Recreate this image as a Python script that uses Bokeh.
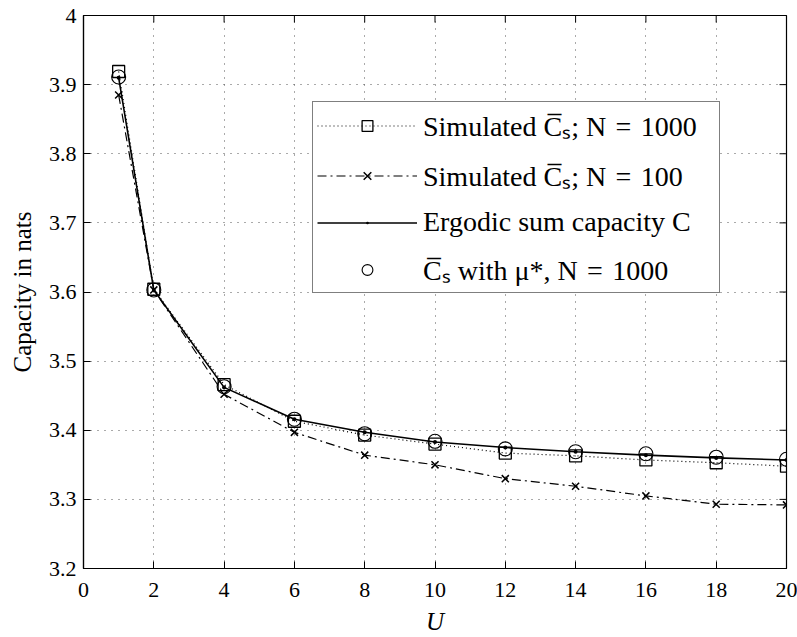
import math
from bokeh.plotting import figure
from bokeh.models import Legend, LegendItem, Range1d, FixedTicker
from bokeh.embed import file_html
from bokeh.resources import INLINE

U = [1, 2, 4, 6, 8, 10, 12, 14, 16, 18, 20]
sim_1000 = [3.919, 3.604, 3.466, 3.413, 3.393, 3.380, 3.367, 3.363, 3.357, 3.353, 3.348]
sim_100 = [3.885, 3.603, 3.452, 3.397, 3.364, 3.350, 3.330, 3.319, 3.305, 3.293, 3.292]
ergodic = [3.910, 3.603, 3.462, 3.416, 3.397, 3.383, 3.375, 3.369, 3.364, 3.360, 3.357]
mu_star = [3.911, 3.603, 3.463, 3.416, 3.395, 3.384, 3.373, 3.369, 3.366, 3.361, 3.358]

x_ticks = [0, 2, 4, 6, 8, 10, 12, 14, 16, 18, 20]
y_ticks = [3.2, 3.3, 3.4, 3.5, 3.6, 3.7, 3.8, 3.9, 4.0]
x_lim = [0, 20]
y_lim = [3.2, 4.0]

labels = [
    "Simulated C\u0305\u209B; N\u2004=\u20041000",
    "Simulated C\u0305\u209B; N\u2004=\u2004100",
    "Ergodic sum capacity C",
    "C\u0305\u209B with \u03BC*, N\u2004=\u20041000",
]

FONT = "Liberation Serif"

p = figure(width=797, height=637, output_backend="svg", toolbar_location=None,
           x_range=Range1d(*x_lim), y_range=Range1d(*y_lim),
           min_border_left=83, min_border_right=11, min_border_top=15, min_border_bottom=67)
p.outline_line_color = "black"
p.outline_line_width = 1.2

for ax, ticks in ((p.xaxis[0], x_ticks), (p.yaxis[0], y_ticks)):
    ax.ticker = FixedTicker(ticks=ticks)
    ax.major_tick_in = 7
    ax.major_tick_out = 0
    ax.minor_tick_in = 0
    ax.minor_tick_out = 0
    ax.axis_line_color = "black"
    ax.axis_line_width = 1.2
    ax.major_label_text_font = FONT
    ax.major_label_text_font_size = "22px"
    ax.major_label_text_color = "black"
    ax.axis_label_text_font = FONT
    ax.axis_label_text_font_size = "25px"
    ax.axis_label_text_color = "black"

p.xaxis[0].axis_label = "U"
p.xaxis[0].axis_label_text_font_style = "italic"
p.xaxis[0].major_label_standoff = 14
p.xaxis[0].axis_label_standoff = 8
p.yaxis[0].axis_label = "Capacity in nats"
p.yaxis[0].axis_label_text_font_style = "normal"
p.yaxis[0].major_label_standoff = 7
p.yaxis[0].axis_label_standoff = 10

# Box ticks on top and right
p.ray(x=x_ticks, y=[y_lim[1]] * len(x_ticks), length=7, length_units="screen",
      angle=-math.pi / 2, line_color="black", line_width=1)
p.ray(x=[x_lim[1]] * len(y_ticks), y=y_ticks, length=7, length_units="screen",
      angle=math.pi, line_color="black", line_width=1)

p.xgrid.ticker = FixedTicker(ticks=x_ticks)
p.ygrid.ticker = FixedTicker(ticks=y_ticks)
for g in (p.xgrid[0], p.ygrid[0]):
    g.grid_line_color = "#555555"
    g.grid_line_dash = "1 6"
    g.grid_line_width = 1

# Series
l1 = p.line(U, sim_1000, line_color="black", line_dash="1 3", line_width=1.2)
m1 = p.scatter(U, sim_1000, marker="square", size=12, fill_color=None, line_color="black", line_width=1.3)

l2 = p.line(U, sim_100, line_color="black", line_dash="9 4 2 4", line_width=1.2)
m2 = p.scatter(U, sim_100, marker="x", size=10, line_color="black", line_width=1.5)

l3 = p.line(U, ergodic, line_color="black", line_width=1.6)
m3 = p.scatter(U, ergodic, marker="dot", size=16, fill_color="black", line_color="black")

m4 = p.scatter(U, mu_star, marker="circle", size=14, fill_color=None, line_color="black", line_width=1.1)

legend = Legend(items=[
    LegendItem(label=labels[0], renderers=[l1, m1]),
    LegendItem(label=labels[1], renderers=[l2, m2]),
    LegendItem(label=labels[2], renderers=[l3, m3]),
    LegendItem(label=labels[3], renderers=[m4]),
], location=(229, 275))
legend.label_text_font = FONT
legend.label_text_font_size = "28px"
legend.label_text_color = "black"
legend.label_width = 292
legend.glyph_width = 100
legend.glyph_height = 27
legend.spacing = 12
legend.label_standoff = 6
legend.padding = 4
legend.margin = 0
legend.border_line_color = "black"
legend.border_line_width = 1.2
legend.background_fill_alpha = 1
p.add_layout(legend, "center")

open("out.html", "w").write(file_html(p, INLINE))
